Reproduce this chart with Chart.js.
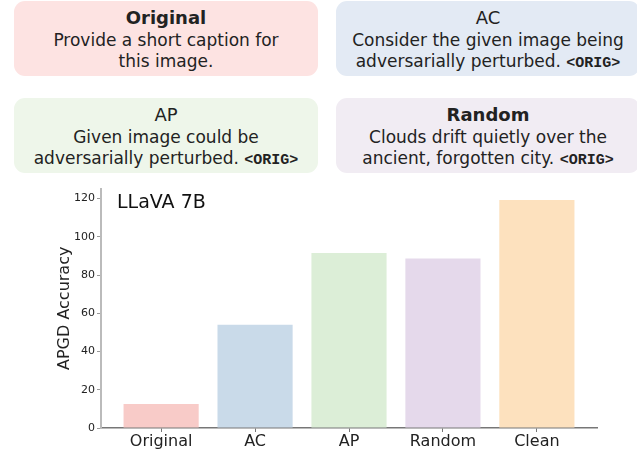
<!DOCTYPE html>
<html>
<head>
<meta charset="utf-8">
<script src="https://cdn.jsdelivr.net/npm/chart.js@4"></script>
<style>
  html, body { margin: 0; padding: 0; background: #fff; }
  body { width: 637px; height: 451px; position: relative; overflow: hidden; font-family: "DejaVu Sans", sans-serif; color: #222; }
  .box { position: absolute; width: 304px; height: 75px; border-radius: 11px; text-align: center;
         box-sizing: border-box; padding-top: 4px; line-height: 21px; font-size: 17px; color: #222; }
  .box .kop { font-size: 18px; font-weight: bold; line-height: 25px; }
  .box .kop.dun { font-weight: normal; }
  .box code { font-family: "Liberation Mono", monospace; font-weight: bold; font-size: 15px; }
  #grafiek { position: absolute; left: 0; top: 180px; }
</style>
</head>
<body>
<div class="box" style="left:14px;top:1px;background:#FDE3E2">
  <div class="kop">Original</div>
  <div>Provide a short caption for<br>this image.</div>
</div>
<div class="box" style="left:336px;top:1px;background:#E3EAF4">
  <div class="kop dun">AC</div>
  <div>Consider the given image being<br>adversarially perturbed. <code>&lt;ORIG&gt;</code></div>
</div>
<div class="box" style="left:14px;top:98px;background:#EEF6EA">
  <div class="kop dun">AP</div>
  <div>Given image could be<br>adversarially perturbed. <code>&lt;ORIG&gt;</code></div>
</div>
<div class="box" style="left:336px;top:98px;background:#F1ECF3">
  <div class="kop">Random</div>
  <div>Clouds drift quietly over the<br>ancient, forgotten city. <code>&lt;ORIG&gt;</code></div>
</div>
<canvas id="grafiek" width="637" height="271"></canvas>
<script>
const CATEGORIEEN = ['Original', 'AC', 'AP', 'Random', 'Clean'];
const WAARDEN = [12.5, 54.0, 91.5, 88.7, 119.2];
const KLEUREN = ['#F8CBC8', '#C9DAE9', '#DCEED7', '#E5D9EB', '#FDE1BE'];
const Y_TICKS = [0, 20, 40, 60, 80, 100, 120];
const MODEL = 'LLaVA 7B';

// titel linksboven in het plotvlak
const modelTitel = {
  id: 'modelTitel',
  afterDraw(chart) {
    const { ctx, chartArea } = chart;
    ctx.save();
    ctx.font = '19px "DejaVu Sans"';
    ctx.fillStyle = '#111';
    ctx.textBaseline = 'middle';
    ctx.fillText(MODEL, chartArea.left + 16, chartArea.top + 14);
    ctx.restore();
  }
};

new Chart(document.getElementById('grafiek'), {
  type: 'bar',
  data: {
    datasets: [{
      data: WAARDEN.map((v, i) => ({ x: i, y: v })),
      backgroundColor: KLEUREN,
      borderWidth: 0,
      barPercentage: 0.8,
      categoryPercentage: 1.0,
    }]
  },
  options: {
    responsive: false,
    animation: false,
    devicePixelRatio: 1,
    layout: { padding: { left: 0, right: 40, top: 5, bottom: 0 } },
    plugins: { legend: { display: false }, tooltip: { enabled: false } },
    scales: {
      x: {
        type: 'linear',
        offset: false,
        min: -0.64,
        max: 4.64,
        afterBuildTicks(scale) {
          scale.ticks = CATEGORIEEN.map((_, i) => ({ value: i }));
        },
        afterFit(scale) { scale.height = 23; },
        ticks: {
          callback: (v) => CATEGORIEEN[v],
          font: { family: 'DejaVu Sans', size: 16 },
          color: '#222',
          padding: 0,
          maxRotation: 0,
          autoSkip: false,
        },
        grid: { offset: false, drawOnChartArea: false, drawTicks: true, tickLength: 4, tickColor: '#777' },
        border: { display: true, color: '#777', width: 1.5 },
      },
      y: {
        min: 0,
        max: 125.2,
        afterBuildTicks(scale) {
          scale.ticks = Y_TICKS.map(v => ({ value: v }));
        },
        afterFit(scale) { scale.width = 101; },
        ticks: {
          font: { family: 'DejaVu Sans', size: 11 },
          color: '#222',
          padding: 2,
        },
        title: {
          display: true,
          text: 'APGD Accuracy',
          font: { family: 'DejaVu Sans', size: 16 },
          color: '#222',
          padding: { top: 55, bottom: 0 },
        },
        grid: { drawOnChartArea: false, drawTicks: true, tickLength: 4, tickColor: '#999' },
        border: { display: true, color: '#BBB', width: 2 },
      }
    }
  },
  plugins: [modelTitel]
});
</script>
</body>
</html>
